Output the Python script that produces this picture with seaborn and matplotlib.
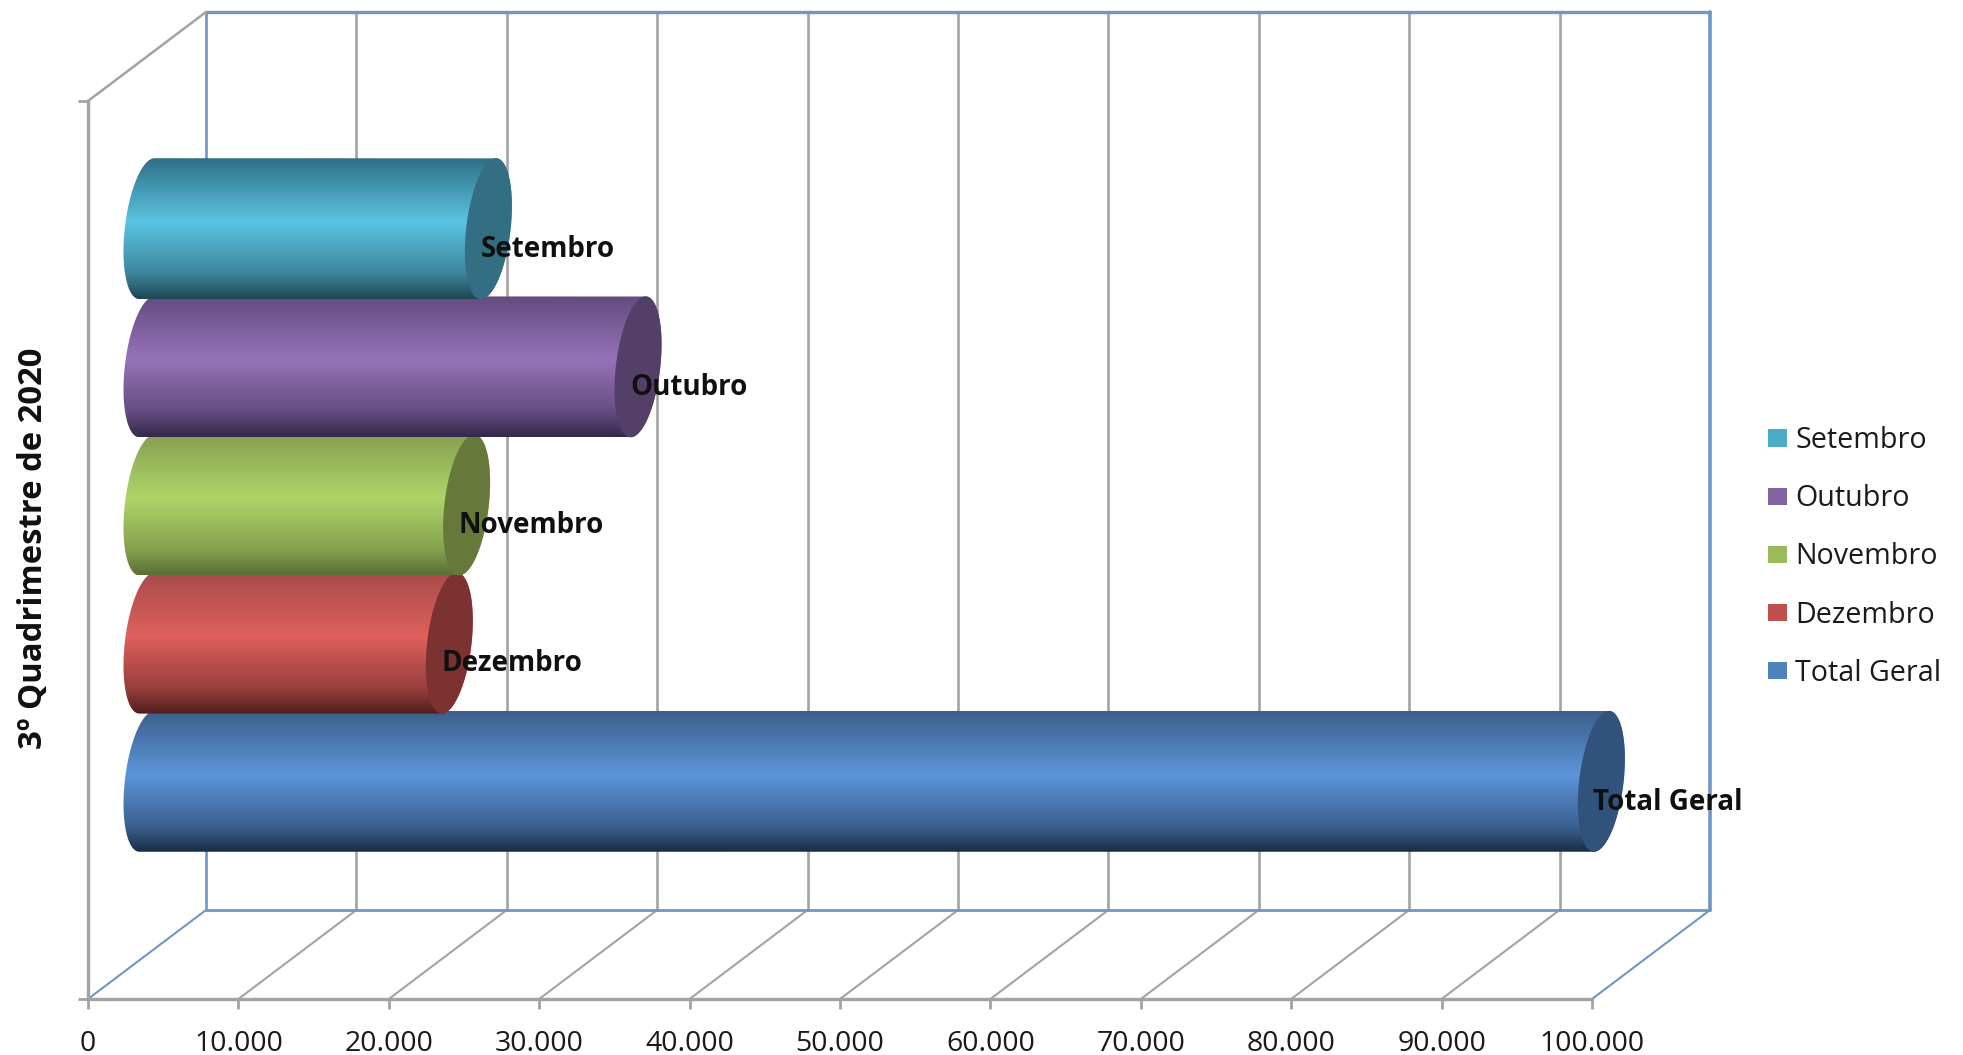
import numpy as np
import pandas as pd
import matplotlib.pyplot as plt
from matplotlib.colors import LinearSegmentedColormap, to_rgb
from matplotlib.patches import Patch, PathPatch
from matplotlib.path import Path
import seaborn as sns

meses = ['Setembro', 'Outubro', 'Novembro', 'Dezembro', 'Total Geral']
valores = [22700, 32650, 21250, 20100, 96700]
legenda_cores = ['#4bacc6', '#8064a2', '#9bbb59', '#c0504d', '#4f81bd']
cor_topo = ['#2f6f85', '#654b80', '#869f50', '#a84c4a', '#3c5f8c']
cor_meio = ['#5bc4e4', '#9673b9', '#afd568', '#e0605d', '#5d95da']
cor_base = ['#1e4653', '#35284a', '#5b6e34', '#501d1c', '#192d45']
cor_tampa = ['#336e82', '#533f68', '#66793a', '#7c3231', '#31527a']
ticks_x = list(range(0, 100001, 10000))

W, H = 1963, 1055
sns.set_style('white')
plt.rcParams['font.family'] = ['Open Sans', 'DejaVu Sans']

fig = plt.figure(figsize=(W / 100, H / 100), dpi=100)

# plano da frente: eixo, ticks e linhas de grade
largura = 1504
altura = 898
ax = fig.add_axes([88 / W, 1 - 999 / H, largura / W, altura / H])
ax.set_xlim(0, 100000)
ax.set_ylim(0, 1)
cinza = '#a3a3a3'
azul = '#7096c6'
dx = 118 / largura * 100000
dy = 89 / altura
for t in ticks_x:
    cor = azul if t in (0, 100000) else cinza
    ax.plot([t, t + dx], [0, dy], color=cor, lw=1.5, clip_on=False)
    ax.plot([t + dx, t + dx], [dy, 1 + dy], color=cor, lw=2.6 if t == 100000 else 1.9, clip_on=False)
ax.plot([dx, 100000 + dx], [dy, dy], color=azul, lw=2, clip_on=False)
ax.plot([dx, 100000 + dx], [1 + dy, 1 + dy], color=azul, lw=2.4, clip_on=False)
ax.plot([0, dx], [1, 1 + dy], color=cinza, lw=1.8, clip_on=False)

for s in ['top', 'right']:
    ax.spines[s].set_visible(False)
for s in ['left', 'bottom']:
    ax.spines[s].set_color(cinza)
    ax.spines[s].set_linewidth(2.4)
ax.set_xticks(ticks_x)
ax.set_xticklabels([f'{t:,}'.replace(',', '.') for t in ticks_x], fontsize=20.5, color='#1a1a1a')
ax.set_yticks([0, 1])
ax.set_yticklabels([])
ax.tick_params(axis='both', length=7, width=2, color=cinza, bottom=True, left=True, pad=15)
ax.patch.set_alpha(0)

# plano do meio da profundidade: onde ficam as barras
# o xlim comeca em -5000 para a elipse da esquerda nao ser cortada pelo imshow
x_ini = -5000
margem = -x_ini / 100000 * largura
ax2 = fig.add_axes([(147 - margem) / W, 1 - 954 / H, (largura + margem) / W, altura / H])
df = pd.DataFrame({'mes': meses, 'valor': valores})
sns.barplot(data=df, x='valor', y='mes', hue='mes', hue_order=meses, palette=legenda_cores,
            order=meses, width=1.02, legend=False, dodge=False, ax=ax2)
ax2.patch.set_alpha(0)
ax2.axis('off')

a = 1480
sh = 500
t = np.linspace(0, 2 * np.pi, 200)
barras = [p for p in ax2.patches if p.get_width() > 0]
barras = sorted(barras, key=lambda p: p.get_y())
for i, p in enumerate(barras):
    p.set_alpha(0)
    y0 = p.get_y()
    h = p.get_height()
    val = p.get_width()
    cy = y0 + h / 2
    b = h / 2
    # na tela o y cresce para baixo (eixo invertido), por isso o sinal do sh
    ex = a * np.cos(t) - sh * np.sin(t)
    ey = b * np.sin(t)
    z = 10 + (len(barras) - i) * 2

    meio = np.array(to_rgb(cor_meio[i]))
    base = np.array(to_rgb(cor_base[i]))
    cmap = LinearSegmentedColormap.from_list('c', [(0, cor_topo[i]), (0.45, cor_meio[i]),
                                                   (0.82, tuple(0.5 * meio + 0.5 * base)), (1, cor_base[i])])
    grad = np.linspace(0, 1, 256).reshape(-1, 1)
    im = ax2.imshow(grad, cmap=cmap, aspect='auto', origin='upper', zorder=z,
                    extent=[-a - sh, val + a + sh, cy + b, cy - b])
    # contorno: metade esquerda da elipse em 0 + metade direita da elipse no valor
    esq = t[(t >= np.pi / 2) & (t <= 3 * np.pi / 2)]
    dir_ = np.r_[t[t > 3 * np.pi / 2], t[t < np.pi / 2]]
    xs = np.r_[a * np.cos(esq) - sh * np.sin(esq), val + a * np.cos(dir_) - sh * np.sin(dir_)]
    ys = np.r_[b * np.sin(esq), b * np.sin(dir_)] + cy
    contorno = PathPatch(Path(np.c_[xs, ys]), transform=ax2.transData, fc='none', ec='none')
    ax2.add_patch(contorno)
    im.set_clip_path(contorno)
    ax2.fill(val + ex, cy + ey, color=cor_tampa[i], zorder=z + 1, lw=0)

for i, (m, v) in enumerate(zip(meses, valores)):
    ax2.text(v - 540, i + 0.15, m, fontsize=20, fontweight='bold', color='#101010',
             ha='left', va='center', zorder=50, clip_on=False)

ax2.set_xlim(x_ini, 100000)
ax2.set_ylim(5.25, -1.25)

fig.text(34 / W, 1 - 548 / H, '3º Quadrimestre de 2020', rotation=90, fontsize=23.7, fontweight='bold',
         color='#101010', ha='center', va='center')

handles = [Patch(facecolor=c, edgecolor='none', label=m) for c, m in zip(legenda_cores, meses)]
fig.legend(handles=handles, loc='center left', bbox_to_anchor=(1768 / W, 1 - 557 / H), frameon=False,
           fontsize=20.6, handlelength=0.65, handleheight=0.55, handletextpad=0.3, labelspacing=1.02,
           labelcolor='#1a1a1a', borderpad=0, borderaxespad=0)

fig.savefig('out.png', dpi=100)
